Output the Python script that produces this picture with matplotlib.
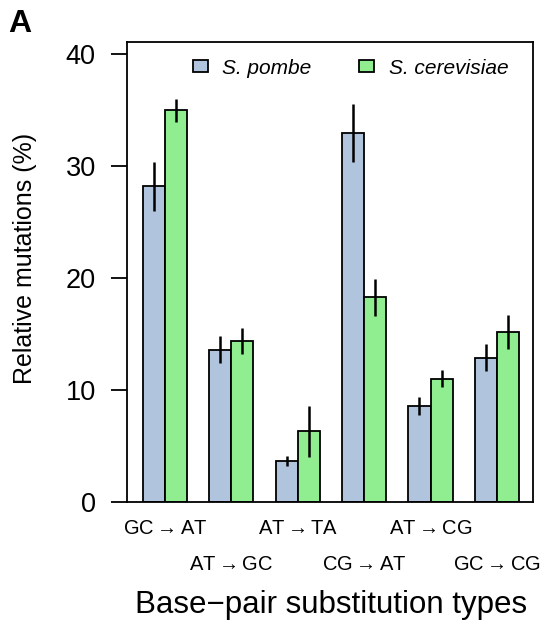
import matplotlib
matplotlib.use("Agg")
import matplotlib.pyplot as plt
import numpy as np

plt.rcParams["font.family"] = ["Liberation Sans", "DejaVu Sans"]
plt.rcParams["mathtext.fontset"] = "custom"
plt.rcParams["mathtext.rm"] = "Liberation Sans"
plt.rcParams["mathtext.it"] = "Liberation Sans:italic"
plt.rcParams["mathtext.bf"] = "Liberation Sans:bold"
plt.rcParams["mathtext.fallback"] = "cm"

categories = [r"$\mathrm{GC}\rightarrow\mathrm{AT}$", r"$\mathrm{AT}\rightarrow\mathrm{GC}$",
              r"$\mathrm{AT}\rightarrow\mathrm{TA}$", r"$\mathrm{CG}\rightarrow\mathrm{AT}$",
              r"$\mathrm{AT}\rightarrow\mathrm{CG}$", r"$\mathrm{GC}\rightarrow\mathrm{CG}$"]
pombe = [28.2, 13.6, 3.7, 33.0, 8.6, 12.9]
pombe_err = [2.2, 1.2, 0.45, 2.6, 0.8, 1.2]
cerevisiae = [35.0, 14.4, 6.3, 18.3, 11.0, 15.2]
cerevisiae_err = [1.05, 1.15, 2.25, 1.65, 0.75, 1.5]
yticks = [0, 10, 20, 30, 40]

W, H = 545, 627
fig = plt.figure(figsize=(W / 100, H / 100), dpi=100)
ax = fig.add_axes([127 / W, 1 - 502 / H, (533 - 127) / W, (502 - 42) / H])

centers = 2 + 3 * np.arange(len(categories))
blue = "#b0c4de"
green = "#90ee90"

ax.bar(centers - 0.5, pombe, width=1.0, color=blue, edgecolor="black", linewidth=1.3,
       label="S. pombe", zorder=2)
ax.bar(centers + 0.5, cerevisiae, width=1.0, color=green, edgecolor="black", linewidth=1.3,
       label="S. cerevisiae", zorder=2)
ax.errorbar(centers - 0.5, pombe, yerr=pombe_err, fmt="none", ecolor="black",
            elinewidth=1.8, capsize=0, zorder=3)
ax.errorbar(centers + 0.5, cerevisiae, yerr=cerevisiae_err, fmt="none", ecolor="black",
            elinewidth=1.8, capsize=0, zorder=3)

ax.set_xlim(0.29, 18.63)
ax.set_ylim(0, 41.1)
ax.set_yticks(yticks)
ax.tick_params(axis="y", length=11.5, width=1.3, labelsize=19.5, pad=11)
ax.set_xticks([])
for s in ax.spines.values():
    s.set_linewidth(1.3)

# alternating category labels
trans = ax.get_xaxis_transform()
for i, (c, lab) in enumerate(zip(centers, categories)):
    y = (502 - 528) / 460 if i % 2 == 0 else (502 - 565) / 460
    ax.text(c, y, lab, transform=trans, ha="center", va="center", fontsize=14.5,
            clip_on=False)

ax.legend(loc="center left", bbox_to_anchor=((193 - 127) / 406, (502 - 68) / 460),
          ncol=2, frameon=False, borderpad=0, borderaxespad=0,
          handlelength=0.72, handleheight=0.55, handletextpad=0.68,
          columnspacing=2.3, prop={"style": "italic", "size": 15})

fig.text(331 / W, 1 - 605 / H, "Base\u2212pair substitution types", ha="center",
         va="center", fontsize=22.5)
fig.text(25 / W, 1 - 258 / H, "Relative mutations (%)", ha="center", va="center",
         rotation=90, fontsize=18)
fig.text(8 / W, 1 - 24 / H, "A", ha="left", va="center", fontsize=23, fontweight="bold")

fig.savefig("out.png", dpi=100)
